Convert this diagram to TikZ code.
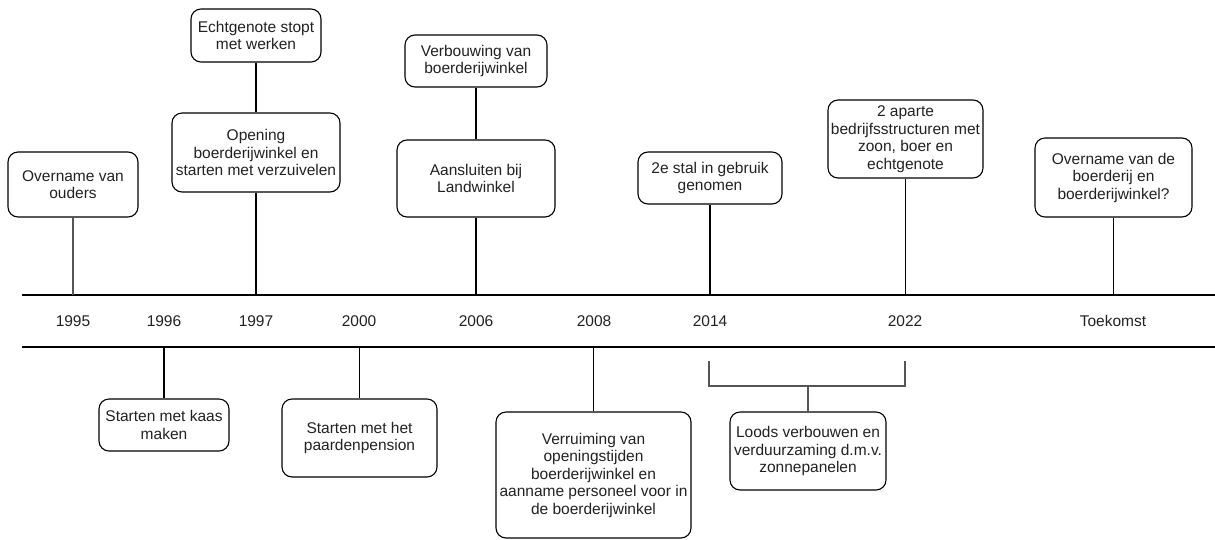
\documentclass[tikz,border=0pt]{standalone}
\usepackage{fontspec}
\setmainfont{Liberation Sans}
\definecolor{ink}{HTML}{222222}
\definecolor{stemgray}{HTML}{555555}
\begin{document}
\begin{tikzpicture}[x=1pt,y=-1pt,
  event/.style={draw=black, line width=1.1pt, rounded corners=10pt, fill=white,
    align=center, text=ink, inner sep=2pt,
    font=\fontsize{15.5pt}{17.5pt}\selectfont},
  year/.style={text=ink, font=\fontsize{15.5pt}{17.5pt}\selectfont},
  axis/.style={line width=1.3pt, black},
  stem/.style={line width=1.2pt, black},
  graystem/.style={line width=1.3pt, stemgray}]
\useasboundingbox (0,0) rectangle (1215,539);

% the two horizontal rails of the timeline
\coordinate (topL) at (22,295);
\coordinate (topR) at (1215,295);
\coordinate (botL) at (22,347);
\coordinate (botR) at (1215,347);
\draw[axis] (topL) -- (topR);
\draw[axis] (botL) -- (botR);

% years between the rails
\node[year] (y95) at (73,321) {1995};
\node[year] (y96) at (164,321) {1996};
\node[year] (y97) at (256,321) {1997};
\node[year] (y00) at (359,321) {2000};
\node[year] (y06) at (476,321) {2006};
\node[year] (y08) at (594,321) {2008};
\node[year] (y14) at (710,321) {2014};
\node[year] (y22) at (905,321) {2022};
\node[year] (yT) at (1113,321) {Toekomst};

% events above the timeline
\node[event, minimum width=130pt, minimum height=65pt] (b95) at (73,184.5) {Overname van\\ouders};
\node[event, minimum width=130pt, minimum height=53pt] (b97t) at (256,35.5) {Echtgenote stopt\\met werken};
\node[event, minimum width=168pt, minimum height=79pt] (b97) at (256,152.5) {Opening\\boerderijwinkel en\\starten met verzuivelen};
\node[event, minimum width=142pt, minimum height=52pt] (b06t) at (476,61) {Verbouwing van\\boerderijwinkel};
\node[event, minimum width=158pt, minimum height=77pt] (b06) at (476,178.5) {Aansluiten bij\\Landwinkel};
\node[event, minimum width=144pt, minimum height=52pt] (b14) at (710,178) {2e stal in gebruik\\genomen};
\node[event, minimum width=155pt, minimum height=78pt] (b22) at (905.5,139) {2 aparte\\bedrijfsstructuren met\\zoon, boer en\\echtgenote};
\node[event, minimum width=157pt, minimum height=79pt] (bT) at (1113.5,177.5) {Overname van de\\boerderij en\\boerderijwinkel?};

% events below the timeline
\node[event, minimum width=130pt, minimum height=52pt] (b96) at (164,425) {Starten met kaas\\maken};
\node[event, minimum width=155pt, minimum height=78pt] (b00) at (359.5,438) {Starten met het\\paardenpension};
\node[event, minimum width=195pt, minimum height=126pt] (b08) at (593.5,475) {Verruiming van\\openingstijden\\boerderijwinkel en\\aanname personeel voor in\\de boerderijwinkel};
\node[event, minimum width=156pt, minimum height=78pt] (b14b) at (808,451) {Loods verbouwen en\\verduurzaming d.m.v.\\zonnepanelen};

% stems to the upper rail
\draw[graystem] (b95.south) -- (b95.south |- topL);
\draw[stem] (b97t.south) -- (b97.north);
\draw[stem] (b97.south) -- (b97.south |- topL);
\draw[stem] (b06t.south) -- (b06.north);
\draw[stem] (b06.south) -- (b06.south |- topL);
\draw[stem] (b14.south) -- (b14.south |- topL);
\draw[stem] (b22.south) -- (b22.south |- topL);
\draw[stem] (bT.south) -- (bT.south |- topL);

% stems from the lower rail
\draw[stem] (b96.north |- botL) -- (b96.north);
\draw[stem] (b00.north |- botL) -- (b00.north);
\draw[stem] (b08.north |- botL) -- (b08.north);

% bracket spanning 2014 to 2022
\coordinate (brL) at (709,361);
\coordinate (brR) at (905,361);
\coordinate (brM) at (b14b.north |- 0,386);
\draw[graystem] (brL) -- (brL |- brM) -- (brR |- brM) -- (brR);
\draw[graystem] (brM) -- (b14b.north);
\end{tikzpicture}
\end{document}
